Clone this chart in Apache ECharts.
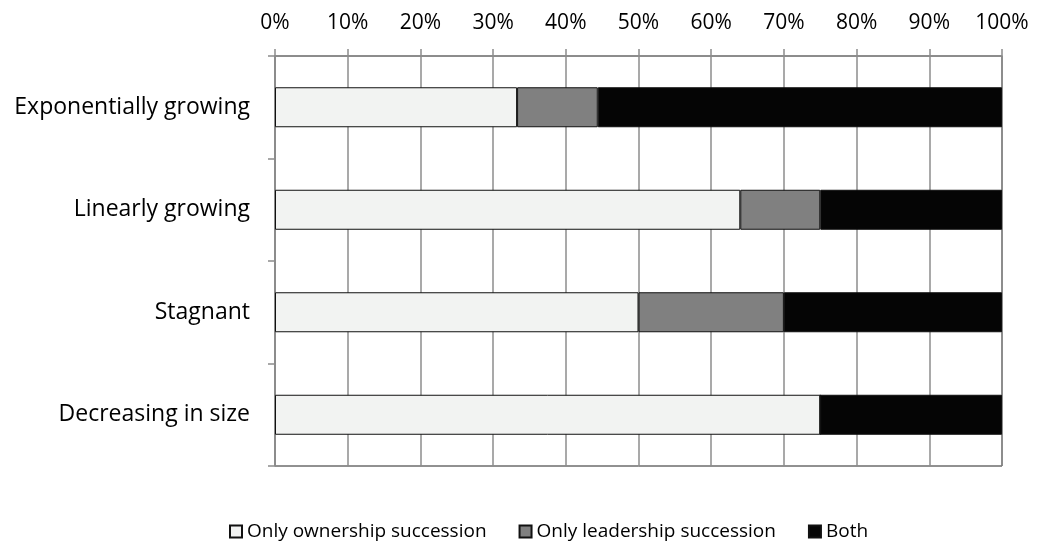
<!DOCTYPE html>
<html>
<head>
<meta charset="utf-8">
<script src="https://cdn.jsdelivr.net/npm/echarts@6/dist/echarts.min.js"></script>
<style>
  html, body { margin: 0; padding: 0; background: #fff; }
  #chart { width: 1037px; height: 549px; }
</style>
</head>
<body>
<div id="chart"></div>
<script>
// Categories, top to bottom
const categories = ['Exponentially growing', 'Linearly growing', 'Stagnant', 'Decreasing in size'];
// Shares (%) per category
const ownershipOnly = [33.3, 64, 50, 75];
const leadershipOnly = [11.1, 11, 20, 0];
const both = [55.6, 25, 30, 25];
const seriesNames = ['Only ownership succession', 'Only leadership succession', 'Both'];

const font = '"Open Sans", sans-serif';
const gridGray = '#8c8c8c';

function barSeries(name, data, color) {
  return {
    name: name,
    type: 'bar',
    stack: 'total',
    barWidth: 40,
    data: data,
    itemStyle: { color: color, borderColor: '#111', borderWidth: 1 },
    emphasis: { disabled: true }
  };
}

const chart = echarts.init(document.getElementById('chart'));
chart.setOption({
  animation: false,
  textStyle: { fontFamily: font },
  grid: {
    left: 275, right: 35, top: 56, bottom: 83,
    show: true, borderColor: '#222', borderWidth: 1
  },
  xAxis: {
    type: 'value',
    position: 'top',
    min: 0, max: 100, interval: 10,
    axisLine: { show: true, lineStyle: { color: gridGray, width: 1.5 } },
    axisTick: { show: true, length: 7, lineStyle: { color: gridGray, width: 1.5 } },
    splitLine: { show: true, lineStyle: { color: gridGray, width: 1.5 } },
    axisLabel: { formatter: '{value}%', color: '#000', fontSize: 21, margin: 22, fontFamily: font }
  },
  yAxis: {
    type: 'category',
    inverse: true,
    data: categories,
    axisLine: { show: true, lineStyle: { color: gridGray, width: 1.5 } },
    axisTick: { show: true, length: 7, lineStyle: { color: gridGray, width: 1.5 } },
    axisLabel: { color: '#000', fontSize: 23, margin: 25, fontFamily: font }
  },
  legend: {
    bottom: 3,
    left: 224,
    icon: 'rect',
    itemWidth: 12,
    itemHeight: 12,
    itemGap: 32,
    textStyle: { color: '#000', fontSize: 19, fontFamily: font },
    data: seriesNames
  },
  series: [
    barSeries(seriesNames[0], ownershipOnly, '#f2f3f2'),
    barSeries(seriesNames[1], leadershipOnly, '#808080'),
    barSeries(seriesNames[2], both, '#050505')
  ]
});
</script>
</body>
</html>
